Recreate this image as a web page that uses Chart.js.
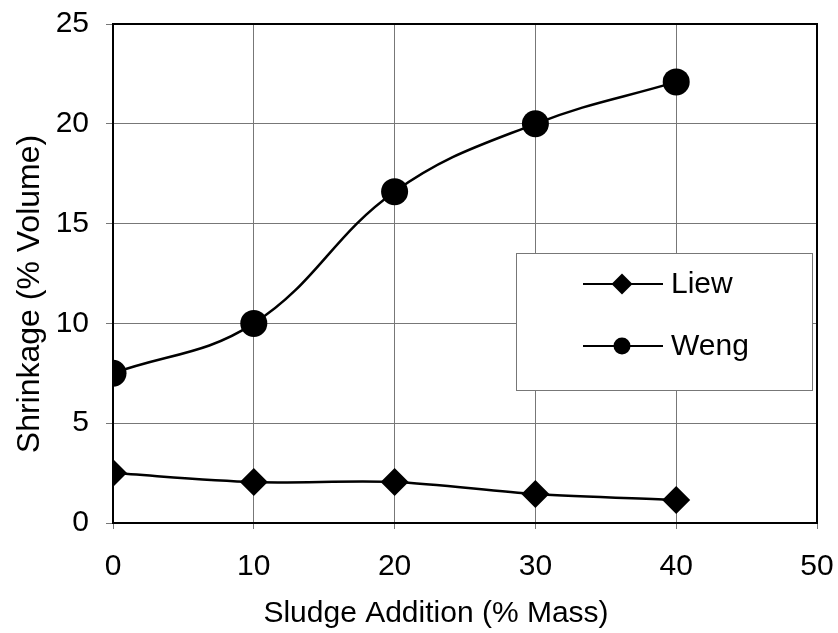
<!DOCTYPE html>
<html lang="en">
<head>
<meta charset="UTF-8">
<title>Shrinkage</title>
<script src="https://cdn.jsdelivr.net/npm/chart.js@4.4.1/dist/chart.umd.min.js"></script>
<style>
  html, body { margin: 0; padding: 0; background: #fff; }
  #wrap { width: 838px; height: 633px; }
</style>
</head>
<body>
<div id="wrap"><canvas id="shrinkChart" width="838" height="633"></canvas></div>
<script>

// data
var sludge = [0, 10, 20, 30, 40];
var liew = [2.5, 2.05, 2.05, 1.45, 1.15];
var weng = [7.5, 10.0, 16.6, 20.0, 22.1];
var xTicks = [0, 10, 20, 30, 40, 50];
var yTicks = [0, 5, 10, 15, 20, 25];
var xTitle = 'Sludge Addition (% Mass)';
var yTitle = 'Shrinkage (% Volume)';

var fontFamily = '"Liberation Sans", Arial, sans-serif';

function toPoints(xs, ys) {
  return xs.map(function(x, i) { return { x: x, y: ys[i] }; });
}

// legend box drawn by hand, Excel style
var boxLegend = {
  id: 'boxLegend',
  afterDraw: function(chart) {
    var ctx = chart.ctx;
    var left = 516, top = 253, w = 296, h = 137;
    ctx.save();
    ctx.fillStyle = '#fff';
    ctx.fillRect(left, top, w, h);
    ctx.strokeStyle = '#777';
    ctx.lineWidth = 1;
    ctx.strokeRect(left + 0.5, top + 0.5, w, h);

    var rows = [
      { label: 'Liew', y: top + 31, style: 'rectRot', r: 10.5 },
      { label: 'Weng', y: top + 93, style: 'circle', r: 8.5 }
    ];
    rows.forEach(function(row) {
      ctx.strokeStyle = '#000';
      ctx.lineWidth = 2;
      ctx.beginPath();
      ctx.moveTo(left + 67, row.y);
      ctx.lineTo(left + 147, row.y);
      ctx.stroke();
      ctx.fillStyle = '#000';
      Chart.helpers.drawPoint(ctx, { pointStyle: row.style, radius: row.r, borderWidth: 0 }, left + 106, row.y);
      ctx.fillStyle = '#000';
      ctx.font = '30px ' + fontFamily;
      ctx.textBaseline = 'middle';
      ctx.fillText(row.label, left + 155, row.y + 1);
    });
    ctx.restore();
  }
};

// black frame round the plot area, and the axis titles
var frame = {
  id: 'frame',
  afterDatasetsDraw: function(chart) {
    var a = chart.chartArea, ctx = chart.ctx;
    ctx.save();
    ctx.strokeStyle = '#000';
    ctx.lineWidth = 2;
    ctx.strokeRect(a.left, a.top, a.right - a.left, a.bottom - a.top);
    ctx.restore();
  },
  afterDraw: function(chart) {
    var ctx = chart.ctx;
    ctx.save();
    ctx.fillStyle = '#000';
    ctx.font = '30px ' + fontFamily;
    ctx.textAlign = 'center';
    ctx.textBaseline = 'alphabetic';
    ctx.fillText(xTitle, 436, 622);
    ctx.font = '32px ' + fontFamily;
    ctx.translate(39, 294);
    ctx.rotate(-Math.PI / 2);
    ctx.fillText(yTitle, 0, 0);
    ctx.restore();
  }
};

var config = {
  type: 'line',
  data: {
    datasets: [
      {
        label: 'Liew',
        data: toPoints(sludge, liew),
        borderColor: '#000',
        backgroundColor: '#000',
        borderWidth: 2.5,
        pointStyle: 'rectRot',
        pointRadius: 14,
        pointBorderWidth: 0,
        tension: 0.3,
        fill: false
      },
      {
        label: 'Weng',
        data: toPoints(sludge, weng),
        borderColor: '#000',
        backgroundColor: '#000',
        borderWidth: 2.5,
        pointStyle: 'circle',
        pointRadius: 13.5,
        pointBorderWidth: 0,
        tension: 0.4,
        fill: false
      }
    ]
  },
  options: {
    responsive: false,
    animation: false,
    layout: { padding: { top: 24, right: 21, left: 0, bottom: 0 } },
    plugins: {
      legend: { display: false },
      tooltip: { enabled: false }
    },
    scales: {
      x: {
        type: 'linear',
        min: 0,
        max: 50,
        afterBuildTicks: function(scale) {
          scale.ticks = xTicks.map(function(v) { return { value: v }; });
        },
        afterFit: function(scale) {
          scale.height = 110;
          scale.paddingLeft = 0;
          scale.paddingRight = 0;
        },
        grid: { color: '#777', lineWidth: 1, drawTicks: true, tickLength: 6, tickColor: '#777' },
        border: { display: false },
        ticks: {
          color: '#000',
          padding: 20,
          maxRotation: 0,
          font: { family: fontFamily, size: 30 }
        }
      },
      y: {
        type: 'linear',
        min: 0,
        max: 25,
        afterBuildTicks: function(scale) {
          scale.ticks = yTicks.map(function(v) { return { value: v }; });
        },
        afterFit: function(scale) {
          scale.width = 113;
          scale.paddingTop = 0;
          scale.paddingBottom = 0;
        },
        grid: { color: '#777', lineWidth: 1, drawTicks: true, tickLength: 7, tickColor: '#777' },
        border: { display: false },
        ticks: {
          color: '#000',
          padding: 17,
          font: { family: fontFamily, size: 30 }
        }
      }
    }
  },
  plugins: [frame, boxLegend]
};

window.onload = function() {
  var ctx = document.getElementById('shrinkChart').getContext('2d');
  window.myChart = new Chart(ctx, config);
};
</script>
</body>
</html>
